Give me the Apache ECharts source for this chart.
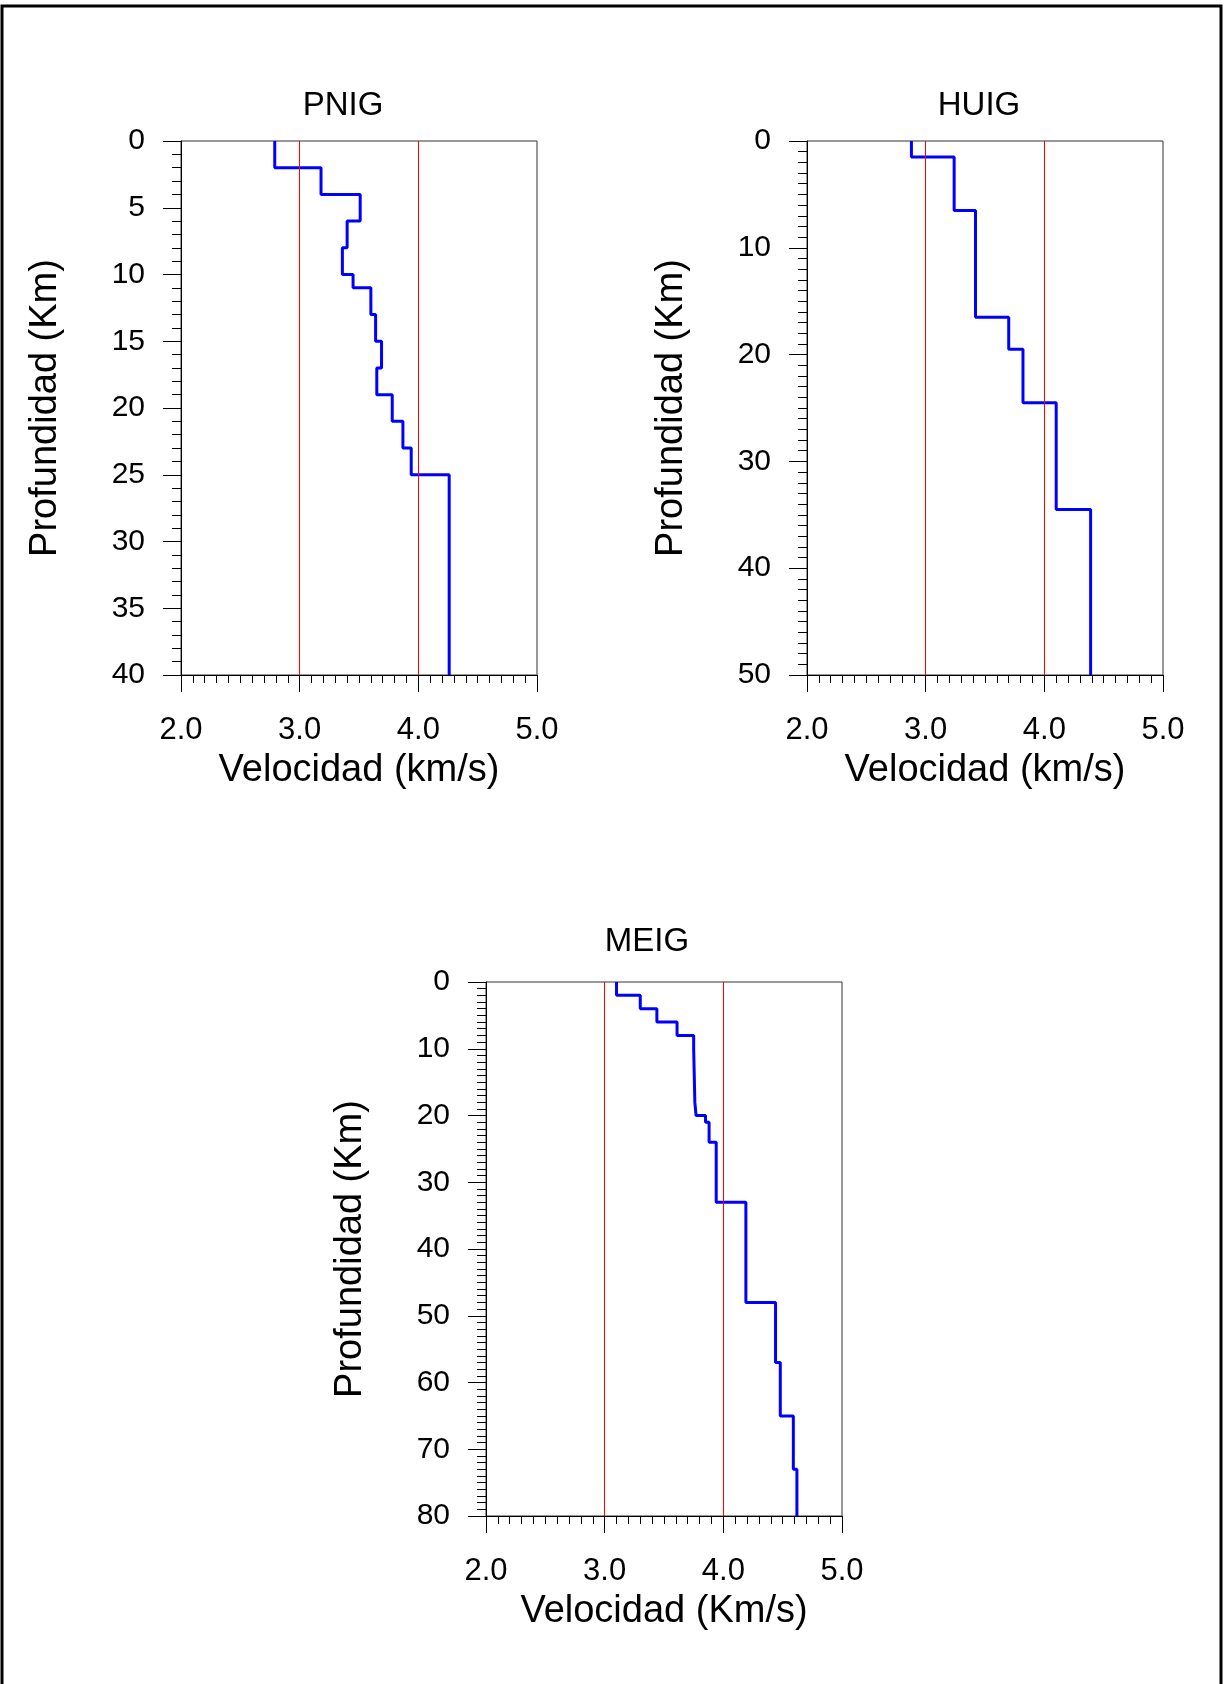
<!DOCTYPE html>
<html><head><meta charset="utf-8">
<script src="https://cdn.jsdelivr.net/npm/echarts@6/dist/echarts.min.js"></script>
<style>html,body{margin:0;padding:0;background:#fff}#c{width:1226px;height:1684px}</style>
</head><body><div id="c"></div>
<script>
// ---- data ----
const stations = ['PNIG', 'HUIG', 'MEIG'];
const pnigDepth = [0, 2, 4, 6, 8, 10, 11, 13, 15, 17, 19, 21, 23, 25, 40];
const pnigVel = [2.79, 3.18, 3.51, 3.40, 3.36, 3.45, 3.60, 3.64, 3.69, 3.65, 3.78, 3.87, 3.94, 4.26];
const huigDepth = [0, 1.5, 6.5, 16.5, 19.5, 24.5, 34.5, 50];
const huigVel = [2.88, 3.24, 3.42, 3.70, 3.82, 4.10, 4.39];
const meigDepth = [0, 2, 4, 6, 8, 10, 18, 20, 21, 24, 33, 48, 57, 65, 73, 80];
const meigVel = [3.10, 3.30, 3.44, 3.61, 3.75, 3.76, 3.77, 3.85, 3.88, 3.94, 4.19, 4.44, 4.48, 4.59, 4.62];
const refVel = [3.0, 4.0];
const velRange = [2.0, 5.0];
const velStep = 1.0;
const depthMax = [40, 50, 80];
const depthStep = [5, 10, 10];
const xNames = ['Velocidad (km/s)', 'Velocidad (km/s)', 'Velocidad (Km/s)'];
const yName = 'Profundidad (Km)';

const depths = [pnigDepth, huigDepth, meigDepth];
const vels = [pnigVel, huigVel, meigVel];

// ---- layout ----
const FONT = '"Liberation Sans", Arial, sans-serif';
const grids = [
  {left: 181, top: 141, width: 356, height: 534},
  {left: 807, top: 141, width: 356, height: 534},
  {left: 486, top: 982, width: 356, height: 534}
];
const titlePos = [[343, 89], [979, 89], [647, 925]];

function stepPoints(d, v) {
  const pts = [];
  for (let i = 0; i < v.length; i++) {
    pts.push([v[i], d[i]]);
    pts.push([v[i], d[i + 1]]);
  }
  return pts;
}

const option = {
  animation: false,
  backgroundColor: '#fff',
  textStyle: {fontFamily: FONT},
  title: stations.map((s, i) => ({
    text: s, left: titlePos[i][0], top: titlePos[i][1], textAlign: 'center', padding: 0,
    textStyle: {fontFamily: FONT, fontSize: 33, fontWeight: 'normal', color: '#000'}
  })),
  grid: grids.map(g => Object.assign({show: true, borderColor: '#333', borderWidth: 1, containLabel: false}, g)),
  xAxis: stations.map((s, i) => ({
    type: 'value', gridIndex: i, min: velRange[0], max: velRange[1], interval: velStep,
    name: xNames[i], nameLocation: 'middle', nameGap: 77,
    nameTextStyle: {fontFamily: FONT, fontSize: 38, color: '#000'},
    axisLine: {show: true, onZero: false, lineStyle: {color: '#000', width: 1}},
    axisTick: {show: true, length: 17, lineStyle: {color: '#000'}},
    minorTick: {show: true, splitNumber: 10, length: 8, lineStyle: {color: '#000'}},
    splitLine: {show: false},
    axisLabel: {margin: 40, fontFamily: FONT, fontSize: 31, color: '#000', formatter: v => v.toFixed(1)}
  })),
  yAxis: stations.map((s, i) => ({
    type: 'value', gridIndex: i, inverse: true, min: 0, max: depthMax[i], interval: depthStep[i],
    name: yName, nameLocation: 'middle', nameGap: 116,
    nameTextStyle: {fontFamily: FONT, fontSize: 38, color: '#000'},
    axisLine: {show: true, onZero: false, lineStyle: {color: '#000', width: 1}},
    axisTick: {show: true, length: 18, lineStyle: {color: '#000'}},
    minorTick: {show: true, splitNumber: depthStep[i], length: 9, lineStyle: {color: '#000'}},
    splitLine: {show: false},
    axisLabel: {margin: 36, fontFamily: FONT, fontSize: 30, color: '#000'}
  })),
  graphic: [{
    type: 'rect', silent: true, z: 100,
    shape: {x: 2, y: 6, width: 1219, height: 1700},
    style: {fill: 'none', stroke: '#000', lineWidth: 3}
  }],
  series: [].concat(
    stations.map((s, i) => ({
      type: 'line', xAxisIndex: i, yAxisIndex: i, data: [], z: 1, silent: true,
      markLine: {
        silent: true, symbol: 'none', animation: false,
        label: {show: false},
        lineStyle: {color: '#ff0000', width: 1, type: 'solid'},
        data: refVel.map(v => ({xAxis: v}))
      }
    })),
    stations.map((s, i) => ({
      name: s, type: 'line', xAxisIndex: i, yAxisIndex: i, z: 3, silent: true,
      showSymbol: false, symbol: 'none',
      lineStyle: {color: '#0000ff', width: 3},
      data: stepPoints(depths[i], vels[i])
    }))
  )
};

const chart = echarts.init(document.getElementById('c'), null, {renderer: 'canvas'});
chart.setOption(option);
</script>
</body></html>
